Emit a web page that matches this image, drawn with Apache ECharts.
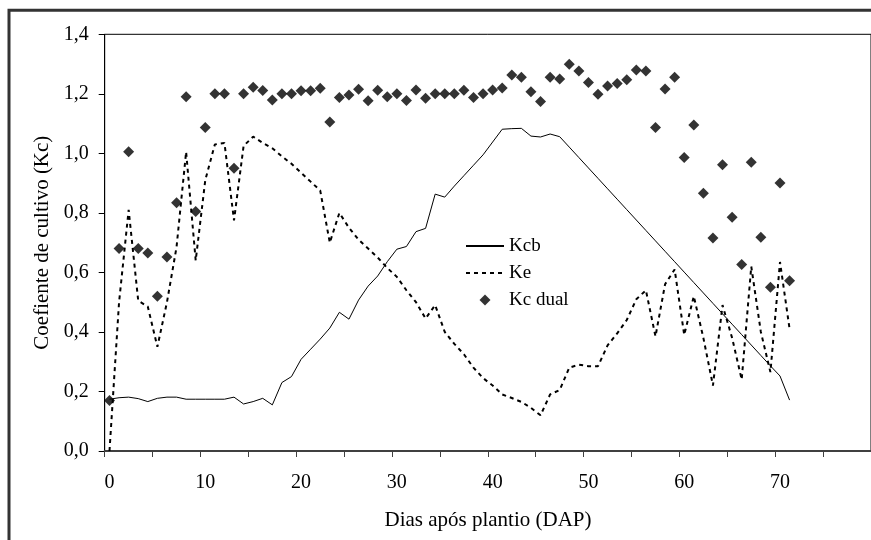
<!DOCTYPE html>
<html><head><meta charset="utf-8">
<script src="https://cdn.jsdelivr.net/npm/echarts@6/dist/echarts.min.js"></script>
<style>html,body{margin:0;padding:0;background:#fff}#c{width:871px;height:540px}</style>
</head><body><div id="c"></div>
<script>
// Categories: days after planting (DAP)
const days = ['0','1','2','3','4','5','6','7','8','9','10','11','12','13','14','15','16','17','18','19',
  '20','21','22','23','24','25','26','27','28','29','30','31','32','33','34','35','36','37','38','39',
  '40','41','42','43','44','45','46','47','48','49','50','51','52','53','54','55','56','57','58','59',
  '60','61','62','63','64','65','66','67','68','69','70','71','72','73','74','75','76','77','78','79'];
const xTickLabels = ['0','10','20','30','40','50','60','70'];
const yTickLabels = ['0,0','0,2','0,4','0,6','0,8','1,0','1,2','1,4'];

const kcb = [0.174,0.179,0.181,0.176,0.166,0.177,0.181,0.181,0.174,0.174,
  0.174,0.174,0.174,0.181,0.158,0.166,0.177,0.155,0.23,0.25,
  0.308,0.342,0.376,0.413,0.466,0.443,0.507,0.554,0.588,0.636,
  0.678,0.687,0.737,0.748,0.863,0.853,0.89,0.925,0.96,0.995,
  1.038,1.081,1.083,1.084,1.058,1.055,1.065,1.056,1.021,0.986,
  0.951,0.916,0.881,0.846,0.811,0.776,0.741,0.706,0.671,0.636,
  0.601,0.566,0.531,0.496,0.461,0.426,0.391,0.356,0.321,0.286,
  0.252,0.171];

const ke = [0.0,0.50,0.81,0.505,0.485,0.35,0.50,0.685,1.005,0.64,
  0.91,1.03,1.035,0.775,1.025,1.056,1.035,1.017,0.99,0.965,
  0.935,0.905,0.875,0.70,0.80,0.75,0.71,0.68,0.65,0.615,
  0.585,0.54,0.50,0.445,0.49,0.40,0.36,0.325,0.28,0.245,
  0.22,0.19,0.178,0.165,0.145,0.12,0.19,0.205,0.28,0.29,
  0.285,0.285,0.355,0.395,0.44,0.51,0.54,0.385,0.56,0.61,
  0.39,0.52,0.38,0.22,0.49,0.38,0.24,0.62,0.40,0.265,
  0.635,0.41];

const kcDual = [0.17,0.68,1.005,0.68,0.665,0.52,0.652,0.834,1.19,0.805,
  1.087,1.20,1.20,0.95,1.20,1.222,1.211,1.179,1.20,1.20,
  1.21,1.21,1.219,1.105,1.188,1.196,1.215,1.177,1.212,1.19,
  1.20,1.178,1.213,1.185,1.20,1.20,1.20,1.212,1.188,1.20,
  1.213,1.22,1.263,1.256,1.207,1.174,1.256,1.25,1.299,1.277,
  1.238,1.199,1.226,1.235,1.247,1.28,1.277,1.087,1.216,1.256,
  0.986,1.095,0.866,0.716,0.962,0.785,0.627,0.970,0.718,0.55,
  0.90,0.572];

const FONT = '"Liberation Serif", "Times New Roman", serif';
const DIAMOND = 'path://M0,-1L1,0L0,1L-1,0Z';
const noSymbol = {color: 'rgba(0,0,0,0)', borderColor: 'rgba(0,0,0,0)', borderWidth: 0};
const chart = echarts.init(document.getElementById('c'), null, {renderer: 'canvas'});
chart.setOption({
  animation: false,
  backgroundColor: '#fff',
  grid: {left: 104.7, top: 34.3, right: -22.5, bottom: 89, show: true, borderColor: '#000', borderWidth: 1, backgroundColor: 'transparent'},
  legend: {
    orient: 'vertical', left: 465, top: 236, padding: 0,
    itemWidth: 38, itemHeight: 11, itemGap: 7, symbolKeepAspect: true,
    textStyle: {fontFamily: FONT, fontSize: 19, color: '#000', lineHeight: 20},
    data: [
      {name: 'Kcb', itemStyle: noSymbol},
      {name: 'Ke', itemStyle: noSymbol},
      {name: 'Kc dual', icon: DIAMOND}
    ]
  },
  xAxis: {
    type: 'category', data: days, boundaryGap: true,
    axisLine: {lineStyle: {color: '#404040', width: 2}},
    axisTick: {show: true, length: 6, lineStyle: {color: '#404040', width: 1},
      interval: function (i) { return i % 5 === 0; }},
    axisLabel: {fontFamily: FONT, fontSize: 20, color: '#000', margin: 22,
      interval: function (i, v) { return xTickLabels.indexOf(v) >= 0; }},
    splitLine: {show: false}
  },
  yAxis: {
    type: 'value', min: 0, max: 1.4, interval: 0.2,
    name: 'Coefiente de cultivo (Kc)', nameLocation: 'middle', nameGap: 52,
    nameTextStyle: {fontFamily: FONT, fontSize: 21, color: '#000'},
    axisLine: {show: true, lineStyle: {color: '#000', width: 1}},
    axisTick: {show: true, length: 6, lineStyle: {color: '#000', width: 1}},
    axisLabel: {fontFamily: FONT, fontSize: 20, color: '#000', margin: 16,
      formatter: function (v) { return yTickLabels[Math.round(v / 0.2)]; }},
    splitLine: {show: false}
  },
  graphic: [
    {type: 'rect', shape: {x: 9, y: 10.3, width: 1200, height: 1200}, style: {fill: 'none', stroke: '#333', lineWidth: 3}, silent: true},
    {type: 'text', x: 488, y: 520, style: {text: 'Dias após plantio (DAP)', fontFamily: FONT, fontSize: 21, fill: '#000', align: 'center', verticalAlign: 'middle'}}
  ],
  series: [
    {name: 'Kcb', type: 'line', data: kcb, symbol: 'none', lineStyle: {color: '#000', width: 1}, itemStyle: {color: '#000'}, z: 2},
    {name: 'Ke', type: 'line', data: ke, symbol: 'none', lineStyle: {color: '#000', width: 2, type: [4, 4]}, itemStyle: {color: '#000'}, z: 3},
    {name: 'Kc dual', type: 'scatter', data: kcDual, symbol: 'diamond', symbolSize: 11, itemStyle: {color: '#000'}, z: 4}
  ]
});
</script></body></html>
